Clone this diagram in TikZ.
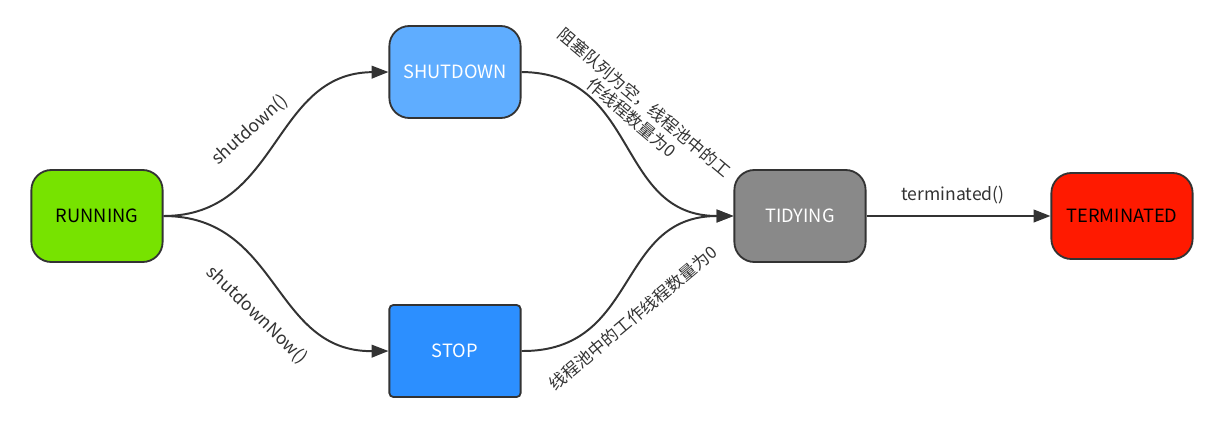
\documentclass[tikz,border=0pt]{standalone}
\usepackage{fontspec}
\setmainfont{Noto Sans CJK SC}
\usepackage{xcolor}
\usetikzlibrary{arrows.meta,positioning,calc}

\definecolor{runGreen}{HTML}{77E300}
\definecolor{shutBlue}{HTML}{5FADFF}
\definecolor{stopBlue}{HTML}{2C8FFF}
\definecolor{tidyGray}{HTML}{898989}
\definecolor{termRed}{HTML}{FF1A00}

\begin{document}
\begin{tikzpicture}[x=0.025cm, y=-0.025cm,
    state/.style={rectangle, rounded corners=0.5cm, draw=black!80, line width=1.3pt, minimum width=3.28cm, minimum height=2.3cm, font=\fontsize{13}{15}\selectfont},
    trans/.style={-{Triangle[length=12pt, width=9pt]}, line width=1.4pt, draw=black!80},
    lbl/.style={font=\fontsize{12.5}{14}\selectfont, text=black!80, inner sep=1pt}
]
\useasboundingbox (0,0) rectangle (1205,423);

% States
\node[state, fill=runGreen] (run) at (97,216) {RUNNING};
\node[state, fill=shutBlue, text=white] (shut) at (455,72) {SHUTDOWN};
\node[state, fill=stopBlue, text=white, rounded corners=0.1cm] (stop) at (455,351) {STOP};
\node[state, fill=tidyGray, text=white] (tidy) at (800,216) {TIDYING};
\node[state, fill=termRed, minimum width=3.53cm, minimum height=2.15cm] (term) at (1122,216) {TERMINATED};

% Transitions
\draw[trans] (run.east) .. controls (280,216) and (272,73) .. (shut.west);
\draw[trans] (run.east) .. controls (280,216) and (272,352) .. (stop.west);
\draw[trans] (shut.east) .. controls (640,73) and (615,216) .. (tidy.west);
\draw[trans] (stop.east) .. controls (640,352) and (615,216) .. (tidy.west);
\draw[trans] (tidy.east) -- (term.west);

% Labels
\node[lbl, rotate=42] (lshut) at (250,130) {shutdown()};
\node[lbl, rotate=-44] (lnow) at (257,315) {shutdownNow()};
\node[lbl, rotate=-40, align=center, font=\fontsize{12}{14}\selectfont] (lempty) at (638,110) {阻塞队列为空，线程池中的工\\作线程数量为0};
\node[lbl, rotate=40, font=\fontsize{12}{14}\selectfont] (lzero) at (633,318) {线程池中的工作线程数量为0};
\node[lbl] (lterm) at (953,195) {terminated()};

\end{tikzpicture}
\end{document}
